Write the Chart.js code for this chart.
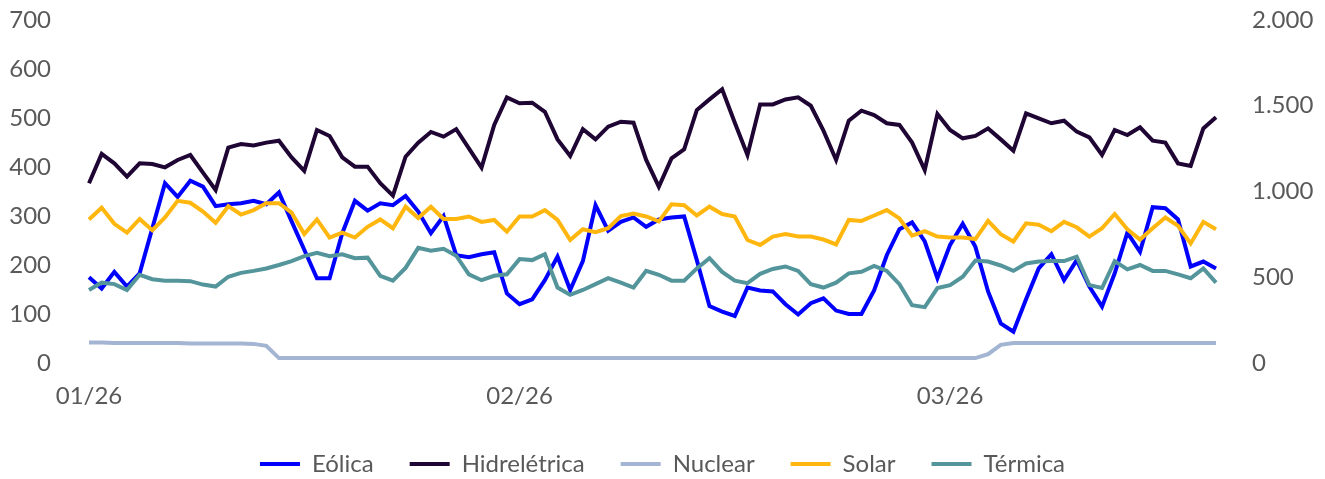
<!DOCTYPE html>
<html>
<head>
<meta charset="utf-8">
<script src="https://cdn.jsdelivr.net/npm/chart.js@4.4.1/dist/chart.umd.min.js"></script>
<style>
  html, body { margin: 0; padding: 0; background: #fff; }
</style>
</head>
<body>
<canvas id="energyChart" width="1325" height="479"></canvas>
<script>
// daily generation, Q1 2026 (Hidrelétrica on right axis)
const eolica = [175,152,186,156,183,275,367,339,372,360,320,324,326,331,324,348,289,231,173,173,265,331,311,326,322,341,309,265,300,220,
  216,222,226,142,120,130,169,217,149,208,322,270,288,297,278,293,297,299,210,116,105,96,154,148,146,120,99,122,132,
  107,100,100,148,220,273,287,248,173,241,284,237,146,81,64,130,193,222,169,210,156,115,183,266,227,318,316,293,197,207,193];

const hidreletrica = [1048,1219,1164,1087,1164,1160,1141,1184,1213,1110,1009,1256,1277,1269,1285,1296,1199,1120,1359,1324,1199,1145,1145,1048,976,1203,1285,1347,1320,1364,
  1252,1139,1388,1549,1514,1518,1465,1304,1207,1364,1304,1378,1407,1401,1184,1028,1193,1246,1475,1537,1596,1401,1213,1508,1508,1537,1549,1500,1355,
  1184,1413,1471,1446,1398,1388,1285,1125,1452,1359,1310,1324,1368,1304,1238,1456,1427,1398,1413,1349,1316,1213,1359,1329,1374,1296,1285,1164,1149,1368,1433];

const nuclear = [42,42,41,41,41,41,41,41,40,40,40,40,40,39,35,
  10,10,10,10,10,10,10,10,10,10,
  10,10,10,10,10,10,10,10,10,10,
  10,10,10,10,10,10,10,10,10,10,
  10,10,10,10,10,10,10,10,10,10,
  10,10,10,10,10,10,10,10,10,10,
  10,10,10,10,10,10,
  18,37,41,41,41,41,41,41,41,41,41,41,41,41,41,41,41,41,41];

const solar = [293,317,284,266,294,271,297,331,327,309,286,320,303,312,326,326,307,263,293,256,266,256,278,293,275,319,296,319,294,294,
  299,288,292,268,299,299,312,292,251,273,267,275,300,305,299,289,324,322,301,319,304,299,251,241,258,263,258,258,252,
  242,292,290,301,312,295,260,269,258,256,256,253,290,263,248,285,282,269,288,277,258,275,304,273,252,275,297,280,244,288,273];

const termica = [149,164,161,149,180,171,168,168,167,160,156,176,184,188,193,200,208,218,225,218,222,214,215,178,168,194,235,229,233,219,
  181,169,178,181,212,210,222,154,139,149,161,173,164,154,188,180,168,168,193,214,186,168,163,182,192,197,188,161,154,
  164,183,186,198,188,161,118,114,153,159,176,209,207,199,188,203,207,208,208,217,159,153,208,191,200,188,188,181,173,193,164];

// one label per day, 01/01/2026 .. 31/03/2026
const dias = [];
for (let d = 0; d < eolica.length; d++) {
  const dt = new Date(2026, 0, 1 + d);
  dias.push(String(dt.getMonth() + 1).padStart(2, "0") + "/" + String(dt.getFullYear()).slice(2));
}
const labelStep = 34;

const leftTicks = [0, 700, 100];   // min, max, step
const rightTicks = [0, 2000, 500];

const cinza = "#595959";
Chart.defaults.font.family = "Lato";
Chart.defaults.font.size = 24;
Chart.defaults.color = cinza;

function serie(label, data, color, axis, order) {
  return {
    label: label,
    data: data,
    borderColor: color,
    backgroundColor: color,
    borderWidth: 4,
    pointRadius: 0,
    tension: 0,
    yAxisID: axis,
    order: order,
  };
}

// keep the side axes from reserving room above/below the plot
function fixVertical(width) {
  return (s) => {
    s.width = width;
    s.paddingTop = 14;
    s.paddingBottom = 14;
  };
}

const config = {
  type: "line",
  data: {
    labels: dias,
    datasets: [
      serie("Eólica", eolica, "#0000FF", "y", 5),
      serie("Hidrelétrica", hidreletrica, "#1E0533", "y2", 4),
      serie("Nuclear", nuclear, "#A3B5D3", "y", 3),
      serie("Solar", solar, "#FFB70F", "y", 2),
      serie("Térmica", termica, "#53959A", "y", 1),
    ],
  },
  options: {
    responsive: false,
    animation: false,
    layout: { padding: { top: 20, left: 0, right: 0, bottom: 0 } },
    plugins: {
      tooltip: { enabled: false },
      legend: {
        position: "bottom",
        maxHeight: 63,
        labels: {
          boxWidth: 40,
          boxHeight: 4,
          padding: 36,
          color: cinza,
          sort: (a, b) => a.datasetIndex - b.datasetIndex,
          generateLabels(chart) {
            const items = Chart.defaults.plugins.legend.labels.generateLabels(chart);
            items.forEach((it) => {
              it.fillStyle = it.strokeStyle;
              it.lineWidth = 0;
            });
            return items;
          },
        },
      },
    },
    scales: {
      x: {
        grid: { display: false, drawTicks: false },
        border: { display: false },
        ticks: {
          autoSkip: false,
          maxRotation: 0,
          padding: 19,
          callback: (v, i) => (i % labelStep === 0 ? dias[i] : ""),
        },
        afterFit: (s) => { s.height = 53; },
      },
      y: {
        position: "left",
        min: leftTicks[0],
        max: leftTicks[1],
        grid: { display: false, drawTicks: false },
        border: { display: false },
        ticks: { stepSize: leftTicks[2], padding: 38 },
        afterFit: fixVertical(89),
      },
      y2: {
        position: "right",
        min: rightTicks[0],
        max: rightTicks[1],
        grid: { display: false, drawTicks: false },
        border: { display: false },
        ticks: {
          stepSize: rightTicks[2],
          padding: 36,
          callback: (v) => String(v).replace(/\B(?=(\d{3})+(?!\d))/g, "."),
        },
        afterFit: fixVertical(109),
      },
    },
  },
};

const energyChart = new Chart(document.getElementById("energyChart"), config);
</script>
</body>
</html>
